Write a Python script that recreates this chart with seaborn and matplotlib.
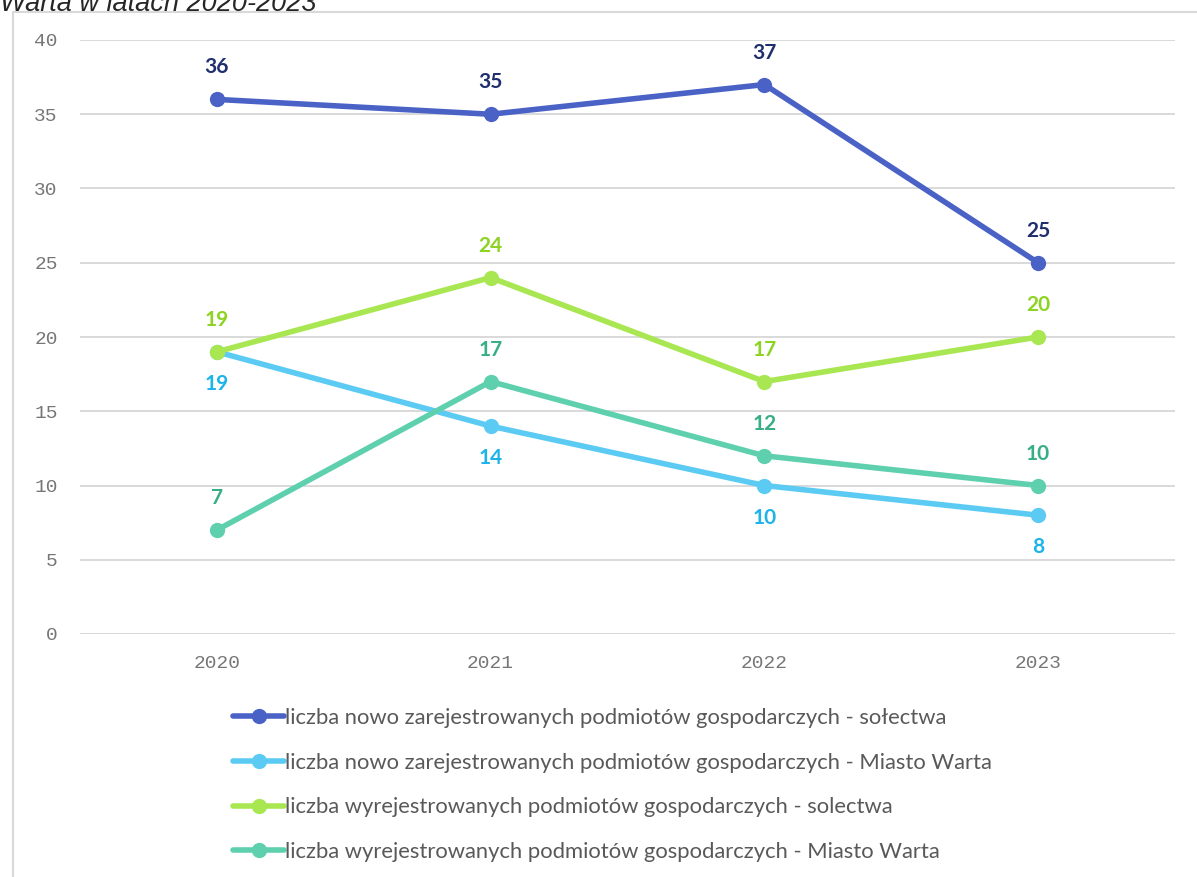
import pandas as pd
import matplotlib.pyplot as plt
import seaborn as sns
from matplotlib.patches import Rectangle

# Dane
lata = ['2020', '2021', '2022', '2023']
serie = [
    'liczba nowo zarejestrowanych podmiotów gospodarczych - sołectwa',
    'liczba nowo zarejestrowanych podmiotów gospodarczych - Miasto Warta',
    'liczba wyrejestrowanych podmiotów gospodarczych - solectwa',
    'liczba wyrejestrowanych podmiotów gospodarczych - Miasto Warta',
]
nowe_solectwa = [36, 35, 37, 25]
nowe_miasto = [19, 14, 10, 8]
wyrej_solectwa = [19, 24, 17, 20]
wyrej_miasto = [7, 17, 12, 10]

kolory = ['#4A62C6', '#5BCBF3', '#A9E752', '#5ED0AE']
kolory_etykiet = ['#1F2F6E', '#1DB4EA', '#8CD322', '#38AE85']
pozycje = [1, -1, 1, 1]  # etykieta nad (1) lub pod (-1) punktem

wartosci = [nowe_solectwa, nowe_miasto, wyrej_solectwa, wyrej_miasto]
df = pd.DataFrame({
    'rok': lata * 4,
    'x': list(range(4)) * 4,
    'wartosc': sum(wartosci, []),
    'seria': [s for s in serie for _ in lata],
})

sns.set_style('white')

fig = plt.figure(figsize=(11.97, 8.77), dpi=100)
ax = fig.add_axes([80 / 1197, 1 - 634 / 877, 1095 / 1197, 594 / 877])

sns.lineplot(data=df, x='x', y='wartosc', hue='seria', palette=kolory,
             marker='o', markersize=11, markeredgewidth=0, linewidth=4,
             ax=ax, legend=False)

for vals, kol, poz in zip(wartosci, kolory_etykiet, pozycje):
    for i, v in enumerate(vals):
        ax.annotate(str(v), (i, v), xytext=(0, 32 * poz), textcoords='offset pixels',
                    ha='center', va='center', fontsize=15, fontweight='bold',
                    color=kol, family=['Lato', 'DejaVu Sans'])

ax.set_xlim(-0.5, 3.5)
ax.set_ylim(0, 40)
ax.set_yticks(range(0, 41, 5))
ax.set_xticks(range(4))
ax.set_xticklabels(lata)
ax.grid(axis='y', color='#D9D9D9', linewidth=1.4)
ax.set_axisbelow(True)
for s in ax.spines.values():
    s.set_visible(False)
ax.tick_params(axis='both', length=0, labelsize=14, labelcolor='#767676')
for lab in ax.get_xticklabels() + ax.get_yticklabels():
    lab.set_family('Liberation Mono')
ax.tick_params(axis='y', pad=16)
ax.tick_params(axis='x', pad=15)
ax.set_xlabel('')
ax.set_ylabel('')

# Legenda
uchwyty = [plt.Line2D([], [], color=k, marker='o', markersize=11, markeredgewidth=0, linewidth=4)
           for k in kolory]
leg = fig.legend(uchwyty, serie, loc='upper left', bbox_to_anchor=(213 / 1197, 1 - 688 / 877),
                 frameon=False, handlelength=2.35, handletextpad=0.05, labelspacing=1.13,
                 prop={'family': 'Lato', 'size': 15.8})
for t in leg.get_texts():
    t.set_color('#595959')

# Tytuł (ucięty u góry) i ramka wykresu
fig.text(0.0, 1 - 4 / 877, 'Warta w latach 2020-2023', fontsize=19.5, style='italic',
         family='Liberation Sans', va='center', ha='left')
fig.patches.append(Rectangle((13 / 1197, -0.01), 1.1, 1 - 12 / 877 + 0.01, transform=fig.transFigure,
                             fill=False, edgecolor='#D9D9D9', linewidth=1.5))

fig.savefig('out.png', dpi=100)
